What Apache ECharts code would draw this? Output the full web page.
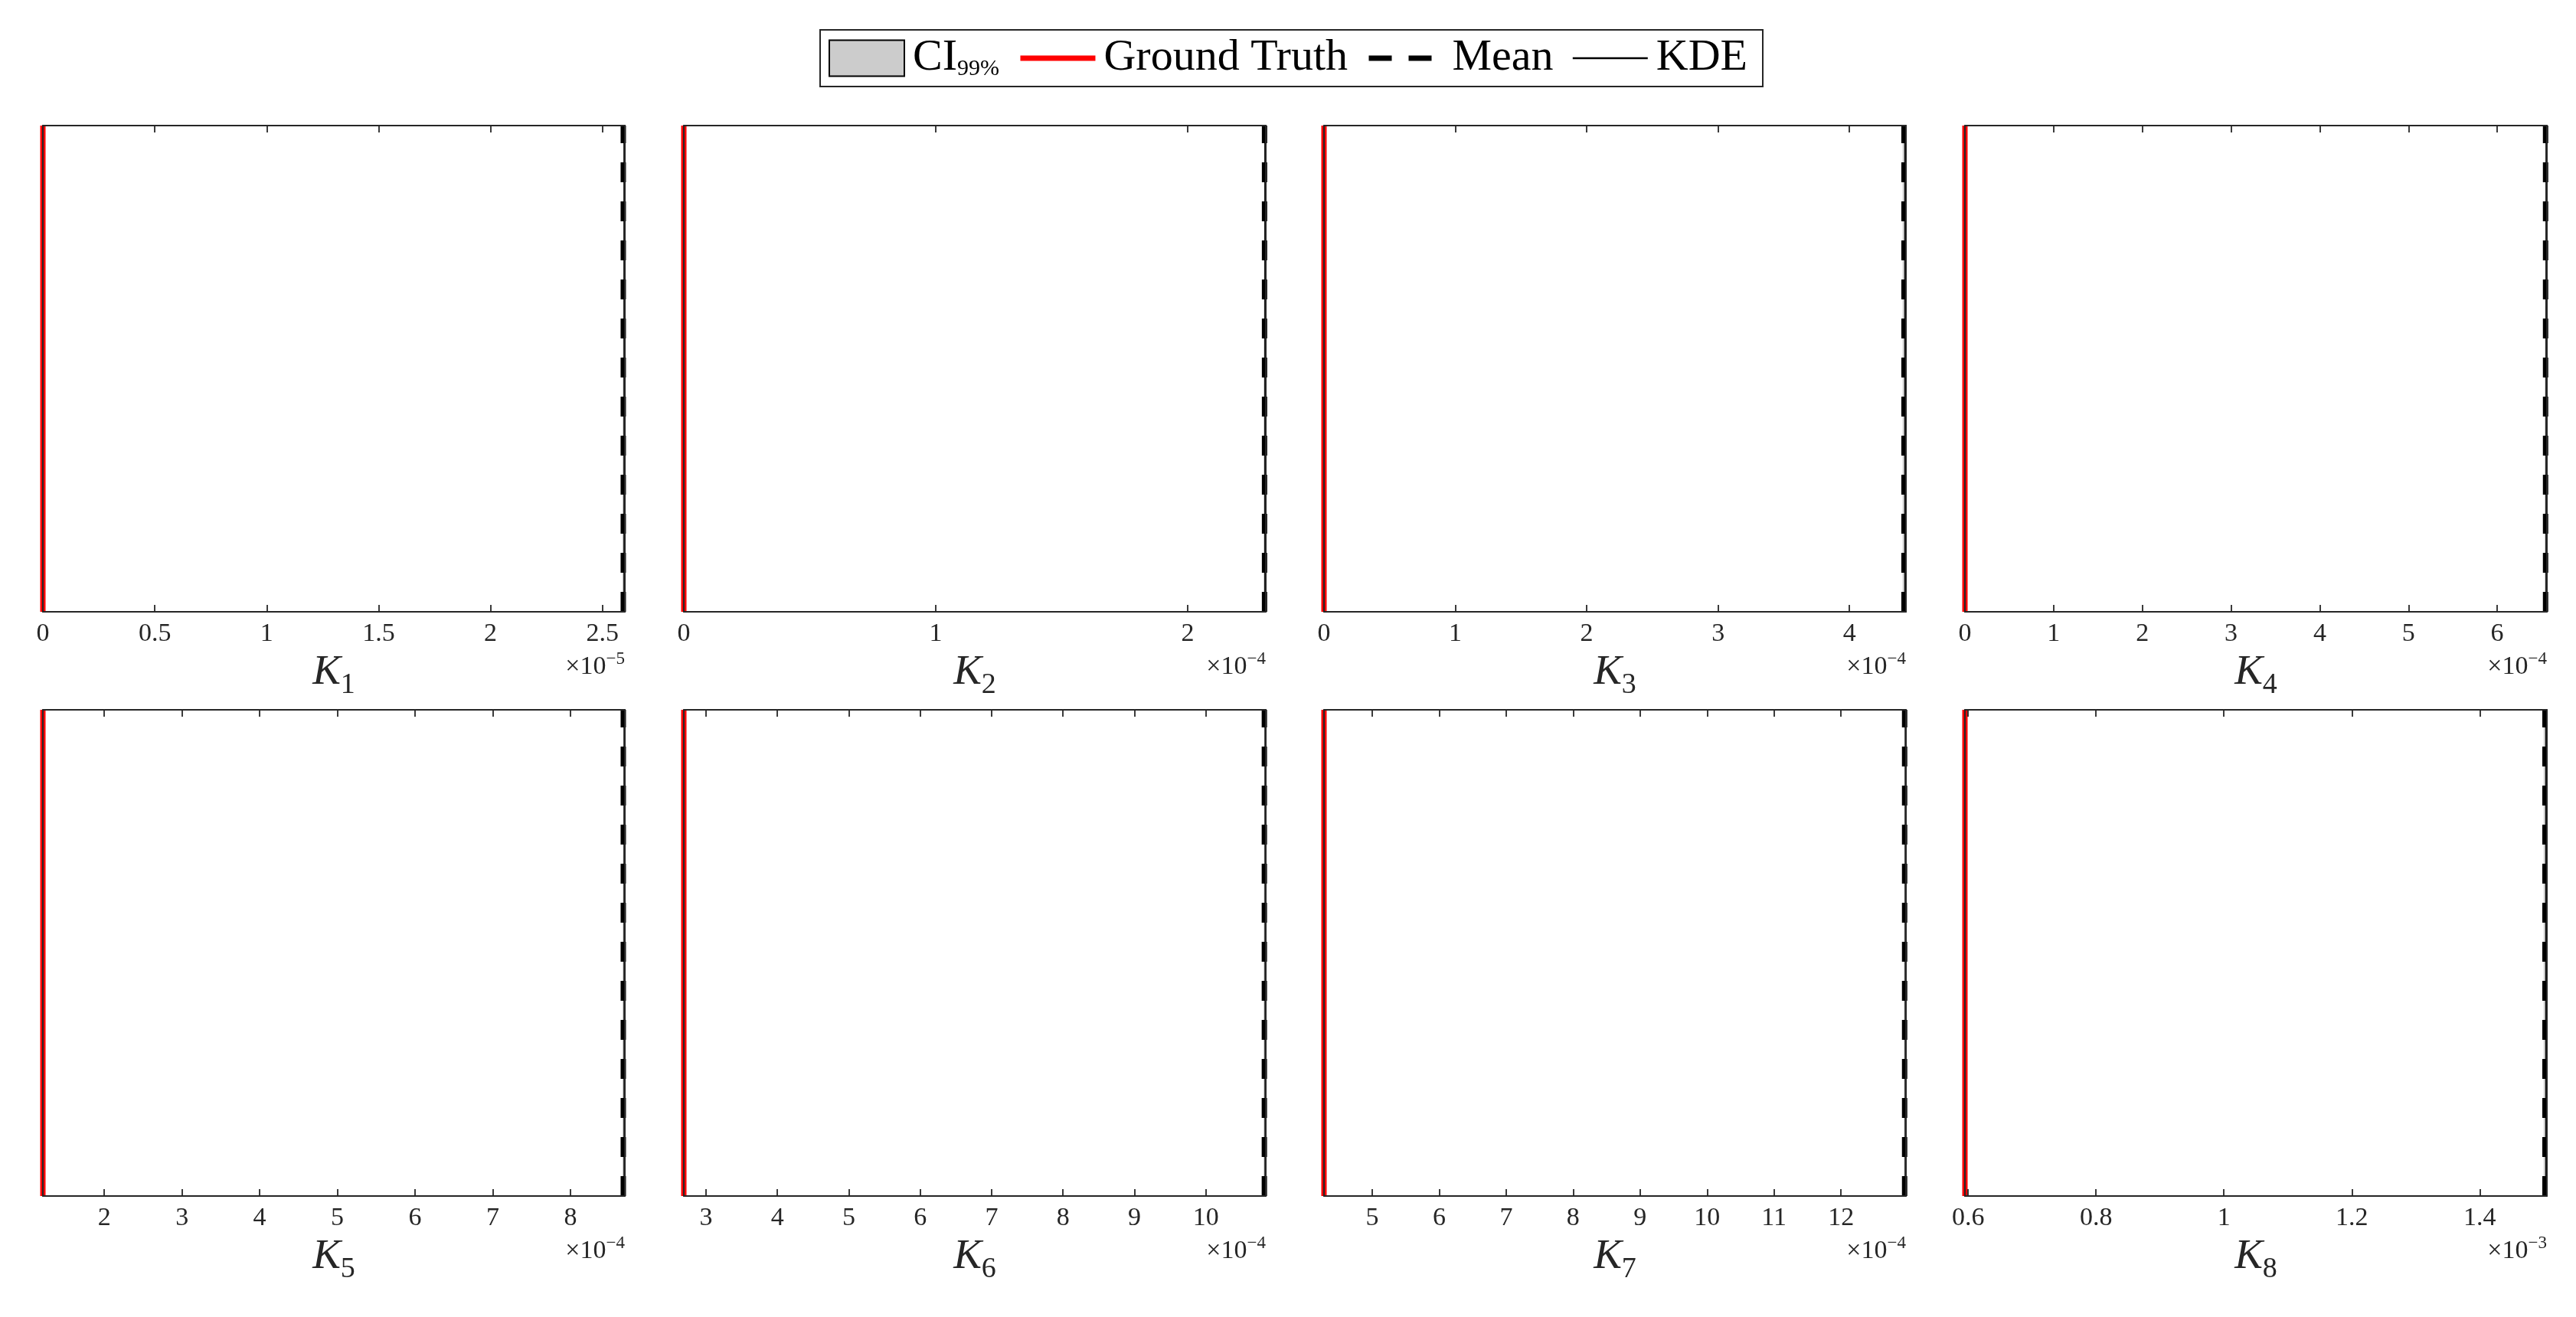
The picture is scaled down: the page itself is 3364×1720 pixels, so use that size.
<!DOCTYPE html>
<html>
<head>
<meta charset="utf-8">
<script src="https://cdn.jsdelivr.net/npm/echarts@6/dist/echarts.min.js"></script>
<style>
html,body{margin:0;padding:0;background:#fff;}
#chart{width:3364px;height:1720px;}
</style>
</head>
<body>
<div id="chart"></div>
<script>
// ---- data (axis values shown in units of 10^exponent) ----
const paramIndex  = [1, 2, 3, 4, 5, 6, 7, 8];
const exponent    = [-5, -4, -4, -4, -4, -4, -4, -3];
const axisMin     = [0, 0, 0, 0, 1.21, 2.69, 4.28, 0.595];
const axisMax     = [2.60, 2.31, 4.43, 6.56, 8.70, 10.84, 12.97, 1.505];
const tickValues  = [
  [0, 0.5, 1, 1.5, 2, 2.5],
  [0, 1, 2],
  [0, 1, 2, 3, 4],
  [0, 1, 2, 3, 4, 5, 6],
  [2, 3, 4, 5, 6, 7, 8],
  [3, 4, 5, 6, 7, 8, 9, 10],
  [5, 6, 7, 8, 9, 10, 11, 12],
  [0.6, 0.8, 1, 1.2, 1.4]
];
const groundTruth = [0, 0, 0, 0, 1.21, 2.69, 4.28, 0.595];
const meanValue   = [2.593, 2.305, 4.415, 6.545, 8.68, 10.82, 12.95, 1.502];
const kdePeak     = [2.598, 2.308, 4.425, 6.555, 8.695, 10.835, 12.965, 1.504];
const ciLow       = [2.589, 2.301, 4.405, 6.535, 8.67, 10.81, 12.94, 1.500];
const ciHigh      = [2.594, 2.306, 4.418, 6.548, 8.685, 10.825, 12.955, 1.503];

// ---- layout / style ----
const FONT = 'Liberation Serif';
const AX = '#262626';
const colLeft = [56, 893, 1729, 2566];
const rowTop = [164, 927];
const PW = 760, PH = 635;

const grids = [], xAxes = [], yAxes = [], series = [], titles = [];
const fmt = v => String(+(+v).toFixed(6));

for (let i = 0; i < 8; i++) {
  const c = i % 4, r = Math.floor(i / 4);
  grids.push({left: colLeft[c], top: rowTop[r], width: PW, height: PH,
              containLabel: false, outerBoundsMode: 'none', show: false});
  const common = {
    gridIndex: i, type: 'value', min: axisMin[i], max: axisMax[i], z: 5,
    splitLine: {show: false},
    axisLine: {show: true, onZero: false, lineStyle: {color: AX, width: 2}},
    axisTick: {show: true, inside: true, length: 9, customValues: tickValues[i],
               lineStyle: {color: AX, width: 1.8}}
  };
  xAxes.push(Object.assign({}, common, {
    position: 'bottom',
    axisLabel: {show: true, customValues: tickValues[i], margin: 12, formatter: fmt,
                fontFamily: FONT, fontSize: 34, color: AX},
    name: '{a|K}{b|' + paramIndex[i] + '}',
    nameLocation: 'middle', nameGap: 52,
    nameTextStyle: {
      fontFamily: FONT, color: AX,
      rich: {
        a: {fontFamily: FONT, fontStyle: 'italic', fontSize: 55, height: 55, lineHeight: 63,
            verticalAlign: 'top', color: AX},
        b: {fontFamily: FONT, fontSize: 38, height: 38, lineHeight: 63,
            verticalAlign: 'bottom', color: AX}
      }
    }
  }));
  xAxes.push(Object.assign({}, common, {
    position: 'top', axisLabel: {show: false}
  }));
  const yCommon = {
    gridIndex: i, type: 'value', min: 0, max: 1, z: 5,
    splitLine: {show: false}, axisTick: {show: false}, axisLabel: {show: false},
    axisLine: {show: true, onZero: false, lineStyle: {color: AX, width: 2}}
  };
  yAxes.push(Object.assign({}, yCommon, {position: 'left'}));
  yAxes.push(Object.assign({}, yCommon, {position: 'right'}));

  const xi = 2 * i, yi = 2 * i;
  series.push({
    name: 'CI99%', type: 'line', xAxisIndex: xi, yAxisIndex: yi, symbol: 'none', showSymbol: false, clip: false,
    data: [[ciLow[i], 1], [ciHigh[i], 1]],
    lineStyle: {width: 0, color: '#cccccc'}, itemStyle: {color: '#cccccc'},
    areaStyle: {color: '#cccccc', opacity: 1}, z: 2
  });
  series.push({
    name: 'KDE', type: 'line', xAxisIndex: xi, yAxisIndex: yi, symbol: 'none', showSymbol: false, clip: false,
    data: [[kdePeak[i], 0], [kdePeak[i], 1]],
    lineStyle: {width: 2.5, color: '#000'}, itemStyle: {color: '#000'}, z: 3
  });
  series.push({
    name: 'Mean', type: 'line', xAxisIndex: xi, yAxisIndex: yi, symbol: 'none', showSymbol: false, clip: false,
    data: [[meanValue[i], 0], [meanValue[i], 1]],
    lineStyle: {width: 7, color: '#000', type: [26, 25], cap: 'butt'}, itemStyle: {color: '#000'}, z: 4
  });
  series.push({
    name: 'Ground Truth', type: 'line', xAxisIndex: xi, yAxisIndex: yi, symbol: 'none', showSymbol: false, clip: false,
    data: [[groundTruth[i], 0], [groundTruth[i], 1]],
    lineStyle: {width: 7, color: '#ff0000'}, itemStyle: {color: '#ff0000'}, z: 4
  });

  titles.push({
    text: '{a|×10}{b|−' + Math.abs(exponent[i]) + '}',
    right: 3364 - (colLeft[c] + PW), top: 849 + r * (rowTop[1] - rowTop[0]),
    padding: 0,
    textStyle: {
      fontFamily: FONT, color: AX, fontWeight: 'normal',
      rich: {
        a: {fontFamily: FONT, fontWeight: 'normal', fontSize: 34, height: 34, lineHeight: 39, verticalAlign: 'bottom', color: AX},
        b: {fontFamily: FONT, fontWeight: 'normal', fontSize: 23, height: 23, lineHeight: 39, verticalAlign: 'top', color: AX}
      }
    }
  });
}

const lineLegendItem = (name, w, dash) => ({
  name: name,
  lineStyle: {width: w, type: dash, cap: 'butt'},
  itemStyle: {opacity: 0, borderWidth: 0, color: 'rgba(0,0,0,0)', borderColor: 'rgba(0,0,0,0)'}
});

const option = {
  backgroundColor: '#fff',
  animation: false,
  title: titles,
  legend: {
    left: 'center', top: 39, orient: 'horizontal',
    selectedMode: false,
    itemWidth: 98, itemHeight: 47, itemGap: 24,
    padding: [8, 20, 8, 11],
    borderColor: AX, borderWidth: 2, backgroundColor: '#fff',
    data: [
      {name: 'CI99%', icon: 'rect', itemStyle: {color: '#cccccc', borderColor: '#000', borderWidth: 2}},
      lineLegendItem('Ground Truth', 7, 'solid'),
      lineLegendItem('Mean', 7, [30, 22]),
      lineLegendItem('KDE', 2.5, 'solid')
    ],
    formatter: function (name) {
      if (name === 'CI99%') return '{a|CI}{b|99%}';
      return '{t|' + name + '}';
    },
    textStyle: {
      fontFamily: FONT, color: '#000', padding: [0, 0, 0, 6],
      rich: {
        a: {fontFamily: FONT, fontSize: 58, height: 58, lineHeight: 58, verticalAlign: 'top', color: '#000'},
        b: {fontFamily: FONT, fontSize: 30, height: 30, lineHeight: 58, verticalAlign: 'bottom', color: '#000'},
        t: {fontFamily: FONT, fontSize: 58, height: 58, lineHeight: 58, color: '#000'}
      }
    }
  },
  grid: grids,
  xAxis: xAxes,
  yAxis: yAxes,
  series: series
};

const chart = echarts.init(document.getElementById('chart'), null, {renderer: 'canvas'});
chart.setOption(option);
</script>
</body>
</html>
